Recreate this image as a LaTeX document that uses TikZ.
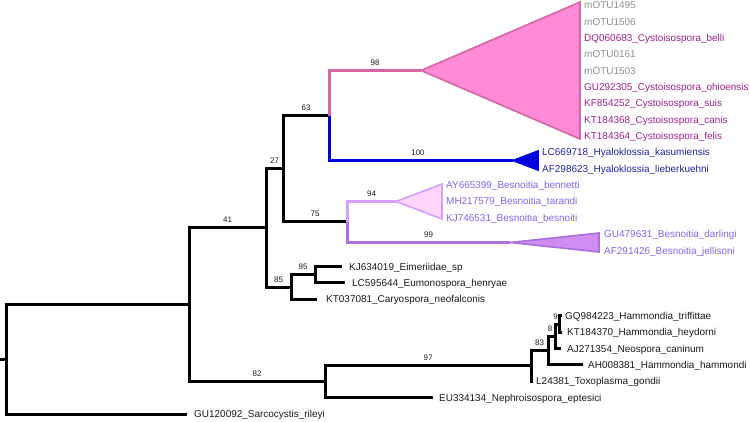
\documentclass[tikz,border=0pt]{standalone}
\usepackage{fontspec}
\setmainfont{Liberation Sans}
\definecolor{pinkline}{HTML}{D4679F}
\definecolor{pinkfill}{HTML}{FF8AD8}
\definecolor{bluel}{HTML}{0000E0}
\definecolor{lavline}{HTML}{D4A0FF}
\definecolor{lavfill}{HTML}{FDD5FA}
\definecolor{purline}{HTML}{A86FDD}
\definecolor{purfill}{HTML}{D08CF0}
\definecolor{motu}{HTML}{8F8F8F}
\definecolor{cysto}{HTML}{A0208F}
\definecolor{hyal}{HTML}{2222A0}
\definecolor{besn}{HTML}{7B68EE}
\definecolor{blk}{HTML}{1A1A1A}
\tikzset{
  br/.style={line width=3bp, draw=black},
  cbr/.style={line width=2.4bp},
  tri/.style={line width=1.6bp, line join=miter},
  tip/.style={anchor=base west, inner sep=0pt, font=\fontsize{10}{12}\selectfont},
  bs/.style={anchor=base, inner sep=0pt, font=\fontsize{8}{10}\selectfont, text=blk},
}
\begin{document}
\begin{tikzpicture}[x=1bp,y=-1bp]
\useasboundingbox (0,0) rectangle (750,421);
% internal nodes
\coordinate (r0) at (0,359.5);
\coordinate (root) at (6.5,359.5);
\coordinate (nTop) at (189.5,304.5);
\coordinate (tSar) at (187,414.5);
\coordinate (n41) at (266.5,227.5);
\coordinate (n82) at (325.5,381.5);
\coordinate (n27) at (283.5,168.5);
\coordinate (n85) at (291.5,287.5);
\coordinate (n63) at (329.5,115.5);
\coordinate (n75) at (347.5,221.5);
\coordinate (pA) at (421,70.5);
\coordinate (bA) at (513,160.5);
\coordinate (lA) at (396,201.5);
\coordinate (uA) at (510,242.5);
\coordinate (n95) at (315.5,274.5);
\coordinate (tKT037) at (317,299.5);
\coordinate (tKJ) at (342,266.5);
\coordinate (tLC) at (345,282.5);
\coordinate (n97) at (531.5,365.5);
\coordinate (tEU) at (433,397.5);
\coordinate (n83) at (548.5,350.5);
\coordinate (tL24) at (533,381.5);
\coordinate (n8) at (555.5,336.5);
\coordinate (tAH) at (583,364.5);
\coordinate (n91) at (559.5,324.5);
\coordinate (tAJ) at (561,348.5);
\coordinate (tGQ) at (561.5,315.5);
\coordinate (tKTh) at (561.5,332.5);
% triangle corners
\coordinate (pT) at (580,2); \coordinate (pB) at (580,139);
\coordinate (bT) at (538,151); \coordinate (bB) at (538,170);
\coordinate (lT) at (442,184); \coordinate (lB) at (442,219);
\coordinate (uT) at (599,233); \coordinate (uB) at (599,252);

% triangles
\draw[tri, draw=pinkline, fill=pinkfill] (pA) -- (pT) -- (pB) -- cycle;
\draw[tri, draw=bluel, fill=bluel] (bA) -- (bT) -- (bB) -- cycle;
\draw[tri, draw=lavline, fill=lavfill] (lA) -- (lT) -- (lB) -- cycle;
\draw[tri, draw=purline, fill=purfill] (uA) -- (uT) -- (uB) -- cycle;

% black branches
\draw[br] (r0) -- (root);
\draw[br] (root) |- (nTop);
\draw[br] (root) |- (tSar);
\draw[br] (nTop) |- (n41);
\draw[br] (nTop) |- (n82);
\draw[br] (n41) |- (n27);
\draw[br] (n41) |- (n85);
\draw[br] (n27) |- (n63);
\draw[br] (n27) |- (n75);
\draw[br] (n85) |- (n95);
\draw[br] (n85) |- (tKT037);
\draw[br] (n95) |- (tKJ);
\draw[br] (n95) |- (tLC);
\draw[br] (n82) |- (n97);
\draw[br] (n82) |- (tEU);
\draw[br] (n97) |- (n83);
\draw[br] (n97) |- (tL24);
\draw[br] (n83) |- (n8);
\draw[br] (n83) |- (tAH);
\draw[br] (n8) |- (n91);
\draw[br] (n8) |- (tAJ);
\draw[br] (n91) |- (tGQ);
\draw[br] (n91) |- (tKTh);
% coloured branches
\draw[cbr, draw=pinkline] (n63) |- (pA);
\draw[cbr, draw=bluel] (n63) |- (bA);
\draw[cbr, draw=lavline] (n75) |- (lA);
\draw[cbr, draw=purline] (n75) |- (uA);

% bootstrap labels
\node[bs] (b41) at (227.5,222.5) {41};
\node[bs] (b82) at (257,376.5) {82};
\node[bs] (b27) at (274.5,163.5) {27};
\node[bs] (b85) at (278.5,282.5) {85};
\node[bs] (b63) at (306,110.5) {63};
\node[bs] (b75) at (315,216.5) {75};
\node[bs] (b98) at (375,65.5) {98};
\node[bs] (b100) at (418,155.5) {100};
\node[bs] (b94) at (371.5,196.5) {94};
\node[bs] (b99) at (428.5,237.5) {99};
\node[bs] (b95) at (303,269.5) {95};
\node[bs] (b97) at (428,360.5) {97};
\node[bs] (b83) at (539.5,345.5) {83};
\node[bs] (b8) at (550,331.5) {8};
\node[bs] (b9) at (555.5,319.5) {9};

% tip labels
\node[tip, text=motu] (l1) at (584,8.6) {mOTU1495};
\node[tip, text=motu] (l2) at (584,25.0) {mOTU1506};
\node[tip, text=cysto] (l3) at (584,41.3) {DQ060683\_Cystoisospora\_belli};
\node[tip, text=motu] (l4) at (584,57.7) {mOTU0161};
\node[tip, text=motu] (l5) at (584,74.0) {mOTU1503};
\node[tip, text=cysto] (l6) at (584,90.4) {GU292305\_Cystoisospora\_ohioensis};
\node[tip, text=cysto] (l7) at (584,106.8) {KF854252\_Cystoisospora\_suis};
\node[tip, text=cysto] (l8) at (584,123.1) {KT184368\_Cystoisospora\_canis};
\node[tip, text=cysto] (l9) at (584,139.5) {KT184364\_Cystoisospora\_felis};
\node[tip, text=hyal] (l10) at (542,155.8) {LC669718\_Hyaloklossia\_kasumiensis};
\node[tip, text=hyal] (l11) at (542,172.2) {AF298623\_Hyaloklossia\_lieberkuehni};
\node[tip, text=besn] (l12) at (446,188.6) {AY665399\_Besnoitia\_bennetti};
\node[tip, text=besn] (l13) at (446,204.9) {MH217579\_Besnoitia\_tarandi};
\node[tip, text=besn] (l14) at (446,221.3) {KJ746531\_Besnoitia\_besnoiti};
\node[tip, text=besn] (l15) at (604,237.6) {GU479631\_Besnoitia\_darlingi};
\node[tip, text=besn] (l16) at (604,254.0) {AF291426\_Besnoitia\_jellisoni};
\node[tip, text=blk] (l17) at (349,270.0) {KJ634019\_Eimeriidae\_sp};
\node[tip, text=blk] (l18) at (352,286.3) {LC595644\_Eumonospora\_henryae};
\node[tip, text=blk] (l19) at (326,302.9) {KT037081\_Caryospora\_neofalconis};
\node[tip, text=blk] (l20) at (565,319.4) {GQ984223\_Hammondia\_triffittae};
\node[tip, text=blk] (l21) at (567,335.8) {KT184370\_Hammondia\_heydorni};
\node[tip, text=blk] (l22) at (567,352.2) {AJ271354\_Neospora\_caninum};
\node[tip, text=blk] (l23) at (588,368.5) {AH008381\_Hammondia\_hammondi};
\node[tip, text=blk] (l24) at (536,384.9) {L24381\_Toxoplasma\_gondii};
\node[tip, text=blk] (l25) at (439,401.2) {EU334134\_Nephroisospora\_eptesici};
\node[tip, text=blk] (l26) at (194,417.6) {GU120092\_Sarcocystis\_rileyi};
\end{tikzpicture}
\end{document}
